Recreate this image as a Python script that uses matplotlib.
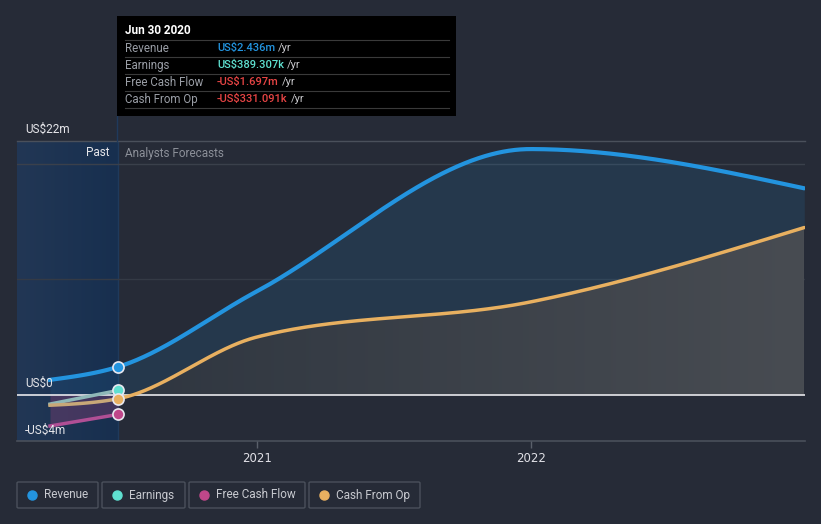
import numpy as np
import matplotlib
matplotlib.use("Agg")
import matplotlib.pyplot as plt
import matplotlib.dates as mdates
from matplotlib.patches import Rectangle, FancyBboxPatch
from matplotlib.colors import LinearSegmentedColormap
import datetime as dt

# ---------------- data ----------------
past_dates = ["2020-03-31", "2020-06-30"]
past_revenue = [1.3, 2.436]
past_earnings = [-0.8, 0.389]
past_fcf = [-2.7, -1.697]
past_cfo = [-0.9, -0.331]

fc_dates = ["2020-12-31", "2021-12-31", "2022-12-31"]
fc_revenue = [8.95, 21.3, 17.9]
fc_cfo = [5.0, 8.05, 14.5]

yticks_labels = ["US$22m", "US$0", "-US$4m"]
legend_labels = ["Revenue", "Earnings", "Free Cash Flow", "Cash From Op"]

# ---------------- style ----------------
BG = "#262b37"
C_REV = "#2394df"
C_EARN = "#5fe0d0"
C_FCF = "#c0478a"
C_CFO = "#e8b060"
W, H = 821, 524


def d2n(s):
    return mdates.date2num(dt.datetime.strptime(s, "%Y-%m-%d"))


def monotone(x, y, xs):
    """d3 curveMonotoneX style interpolation."""
    x = np.asarray(x, float); y = np.asarray(y, float)
    h = np.diff(x); s = np.diff(y) / h
    n = len(x)
    m = np.zeros(n)
    for i in range(1, n - 1):
        p = (s[i - 1] * h[i] + s[i] * h[i - 1]) / (h[i - 1] + h[i])
        m[i] = (np.sign(s[i - 1]) + np.sign(s[i])) * min(abs(s[i - 1]), abs(s[i]), 0.5 * abs(p))
    m[0] = (3 * s[0] - m[1]) / 2 if n > 2 else s[0]
    m[-1] = (3 * s[-1] - m[-2]) / 2 if n > 2 else s[-1]
    out = np.empty_like(xs)
    for j, xv in enumerate(xs):
        i = min(max(np.searchsorted(x, xv) - 1, 0), n - 2)
        t = (xv - x[i]) / h[i]
        h00 = 2*t**3 - 3*t**2 + 1; h10 = t**3 - 2*t**2 + t
        h01 = -2*t**3 + 3*t**2; h11 = t**3 - t**2
        out[j] = h00*y[i] + h10*h[i]*m[i] + h01*y[i+1] + h11*h[i]*m[i+1]
    return out


def px(x, y):
    return x / W, 1 - y / H


fig = plt.figure(figsize=(W / 100, H / 100), dpi=100, facecolor=BG)
L, R, T, B = 17, 805, 141, 441
ax = fig.add_axes([L / W, 1 - B / H, (R - L) / W, (B - T) / H])
ax.set_facecolor(BG)
x0 = d2n("2020-02-16"); x1 = d2n("2023-01-01")
ax.set_xlim(x0, x1)
ax.set_ylim(-4, 22)
for sp in ax.spines.values():
    sp.set_visible(False)
ax.set_yticks([])

# past band gradient
xp = d2n(past_dates[-1])
grad = np.linspace(0, 1, 256).reshape(1, -1)
cm_past = LinearSegmentedColormap.from_list("p", ["#223755", "#172f4f"])
ax.imshow(grad, extent=[x0, xp, -4, 22], aspect="auto", cmap=cm_past, zorder=0.5)
ax.axvline(xp, color="#1f3a5c", lw=1, zorder=0.6)

# gridlines
for yv, c in [(20, "#3a404b"), (10, "#343a45")]:
    ax.axhline(yv, color=c, lw=1, zorder=0.7)
ax.axhline(22, color="#4a505b", lw=1, zorder=0.7, clip_on=False)
ax.axhline(-4, color="#4a505b", lw=1.2, zorder=0.7, clip_on=False)

# curves
pxn = [d2n(d) for d in past_dates]
fxn = [d2n(d) for d in fc_dates]
all_x = pxn + fxn
rev_all = past_revenue + fc_revenue
cfo_all = past_cfo + fc_cfo
xs_p = np.linspace(pxn[0], pxn[1], 60)
xs_f = np.linspace(pxn[1], fxn[-1], 700)
rev_f = monotone(all_x, rev_all, xs_f)
cfo_f = monotone(all_x, cfo_all, xs_f)
rev_p = monotone(all_x, rev_all, xs_p)
cfo_p = monotone(all_x, cfo_all, xs_p)
earn_p = np.interp(xs_p, pxn, past_earnings)
fcf_p = np.interp(xs_p, pxn, past_fcf)

# fills forecast
ax.fill_between(xs_f, rev_f, cfo_f, color=C_REV, alpha=0.13, lw=0, zorder=1)
poly = ax.fill_between(xs_f, cfo_f, 0, color="none", lw=0, zorder=1)
cm_g = LinearSegmentedColormap.from_list("g", ["#2f3640", "#484c52"])
im = ax.imshow(grad, extent=[xs_f[0], xs_f[-1], -4, 22], aspect="auto", cmap=cm_g, zorder=1)
im.set_clip_path(poly.get_paths()[0], transform=ax.transData)
# fills past
ax.fill_between(xs_p, rev_p, 0, color=C_REV, alpha=0.10, lw=0, zorder=1)
ax.fill_between(xs_p, 0, fcf_p, color=C_FCF, alpha=0.25, lw=0, zorder=1)

ax.axhline(0, color="#e8e8ec", lw=1.2, zorder=2)

ax.plot(xs_f, rev_f, color=C_REV, lw=3, zorder=3, solid_capstyle="round")
ax.plot(xs_f, cfo_f, color=C_CFO, lw=2.5, zorder=3, solid_capstyle="round")
ax.plot(xs_p, rev_p, color=C_REV, lw=3, zorder=3)
ax.plot(xs_p, earn_p, color="#8fb8b8", lw=2.5, zorder=3)
ax.plot(xs_p, fcf_p, color="#b04f95", lw=2.5, zorder=3)
ax.plot(xs_p, cfo_p, color="#c8a878", lw=2.5, zorder=3)

for v, c in [(past_revenue[-1], C_REV), (past_earnings[-1], C_EARN),
             (past_fcf[-1], C_FCF), (past_cfo[-1], C_CFO)]:
    ax.plot([xp], [v], "o", ms=8, mfc=c, mec="#e8e8f0", mew=1.2, zorder=5)

# x ticks
ax.set_xticks([d2n("2021-01-01"), d2n("2022-01-01")])
ax.set_xticklabels(["2021", "2022"])
ax.tick_params(axis="x", colors="#5a606b", length=5, width=1, labelcolor="#e0e0e6",
               labelsize=8.5, pad=3)

# y labels
ft = dict(fontsize=8.5, color="#e6e6ea", family="Roboto")
fig.text(*px(25, 129), yticks_labels[0], va="center", ha="left", **ft)
fig.text(*px(25, 383), yticks_labels[1], va="center", ha="left", **ft)
fig.text(*px(25, 430), yticks_labels[2], va="center", ha="left", **ft)
fig.text(*px(109, 153), "Past", va="center", ha="right", **ft)
fig.text(*px(125, 153), "Analysts Forecasts", va="center", ha="left", fontsize=8.5,
         color="#8c9099", family="Roboto")

# tooltip
fig.patches.append(Rectangle(px(117, 116), 339 / W, 100 / H, transform=fig.transFigure,
                             facecolor="#000000", edgecolor="none", zorder=10))
fig.text(*px(125, 31), "Jun 30 2020", va="center", ha="left", fontsize=8.5,
         color="white", weight="bold", family="Roboto", zorder=11)
rows = [("Revenue", "US$2.436m", C_REV), ("Earnings", "US$389.307k", C_EARN),
        ("Free Cash Flow", "-US$1.697m", "#e84545"), ("Cash From Op", "-US$331.091k", "#e84545")]
for i, (lab, val, c) in enumerate(rows):
    y = 48 + 17 * i
    fig.text(*px(125, y), lab, va="center", ha="left", fontsize=8.3, color="#9a9ea6",
             family="Roboto", zorder=11)
    t = fig.text(*px(217, y), val, va="center", ha="left", fontsize=8, color=c,
                 family="Roboto", weight="medium", zorder=11)
    fig.canvas.draw()
    bb = t.get_window_extent()
    fig.text(bb.x1 / W + 3 / W, px(0, y)[1], "/yr", va="center", ha="left", fontsize=8,
             color="#c8c8cc", family="Roboto", zorder=11)
for i in range(5):
    y = 40 + 17 * i
    fig.add_artist(plt.Line2D([125 / W, 449 / W], [1 - y / H] * 2, transform=fig.transFigure,
                              color="#3a3a3a", lw=0.8, zorder=11))
fig.add_artist(plt.Line2D([117 / W] * 2, [1 - 116 / H, 1 - 141 / H], transform=fig.transFigure,
                          color="#1f3a5c", lw=1, zorder=1))

# legend
boxes = [(17, 98), (102, 185), (189, 305), (309, 420)]
cols = [C_REV, C_EARN, C_FCF, C_CFO]
for (a, b), lab, c in zip(boxes, legend_labels, cols):
    fig.patches.append(FancyBboxPatch(px(a, 508), (b - a) / W, 26 / H,
                                      boxstyle="round,pad=0,rounding_size=0.002",
                                      transform=fig.transFigure, facecolor="none",
                                      edgecolor="#4a505b", lw=1))
    fig.add_artist(plt.Line2D([(a + 15) / W], [1 - 495 / H], marker="o", ms=6.5, color=c,
                              transform=fig.transFigure, lw=0))
    fig.text(*px(a + 27, 495), lab, va="center", ha="left", fontsize=8.5, color="#c8cad0",
             family="Roboto")

fig.savefig("out.png", dpi=100, facecolor=BG)
